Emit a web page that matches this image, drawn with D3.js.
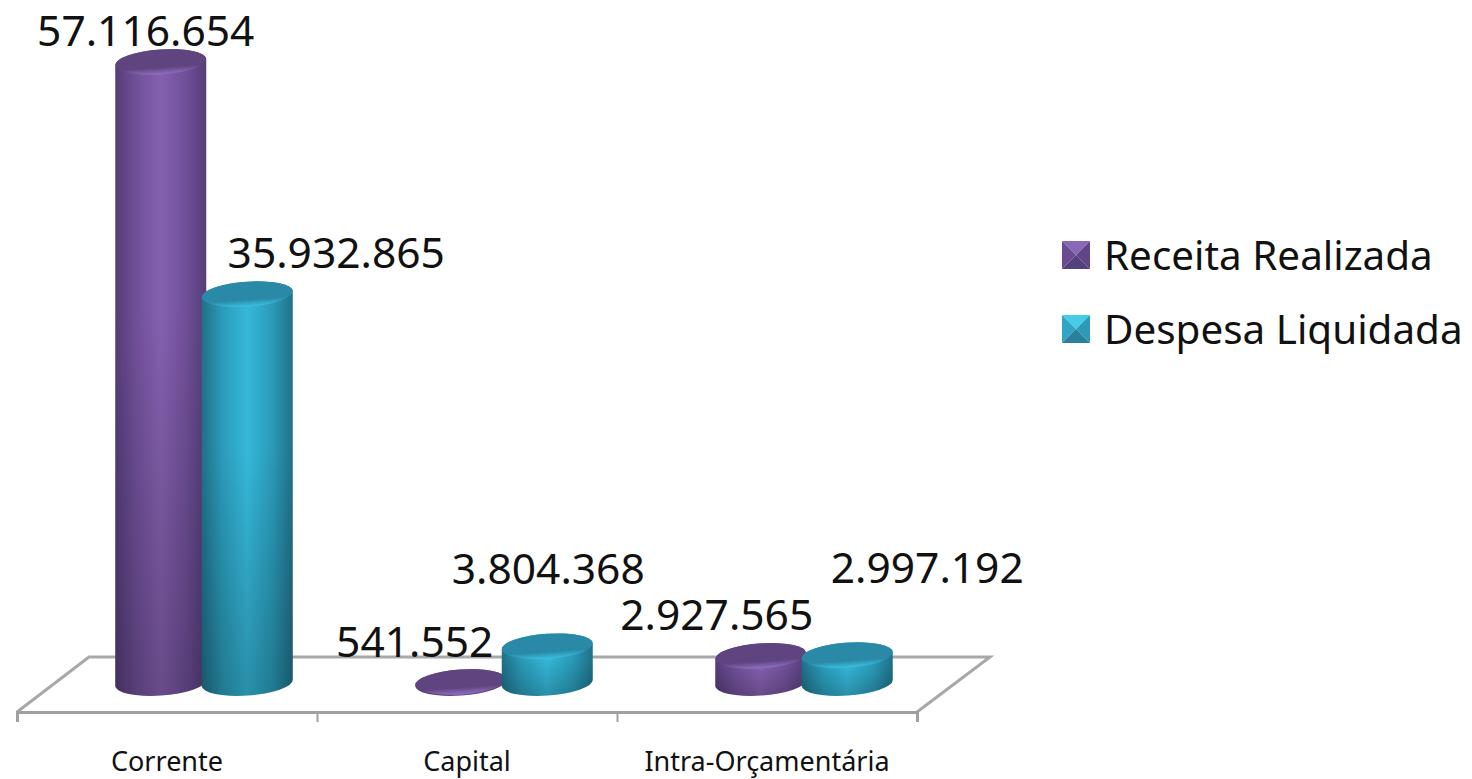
<!DOCTYPE html>
<html>
<head>
<meta charset="utf-8">
<script src="https://cdn.jsdelivr.net/npm/d3@7"></script>
<style>
    html, body { margin: 0; padding: 0; background: #fff; overflow: hidden; }
    text { font-family: "Noto Sans", sans-serif; fill: #111; }
</style>
</head>
<body>
<svg id="chart" width="1472" height="779"></svg>
<script>
const categories = ["Corrente", "Capital", "Intra-Orçamentária"];
const seriesNames = ["Receita Realizada", "Despesa Liquidada"];
const receitaRealizada = [57116654, 541552, 2927565];
const despesaLiquidada = [35932865, 3804368, 2997192];
const valueLabels = [
    ["57.116.654", "541.552", "2.927.565"],
    ["35.932.865", "3.804.368", "2.997.192"]
];

// the labels were placed by hand in the original, so they sit off their bars
const labelNudge = [
    [[-15, -16], [-46, -25], [-44, -26]],
    [[89, -26], [1, -62], [80, -72]]
];

const colors = [
    { edge: "#553d78", soft: "#6f4f98", mid: "#8660b0", top: "#5f4480", lip: "#9070c0", tri: ["#8a68b8", "#6a4a92", "#614588", "#54407a"] },
    { edge: "#1f7088", soft: "#2a9ab8", mid: "#35b8da", top: "#2a89a6", lip: "#3cc0e0", tri: ["#48cbea", "#2fa6c6", "#2b9ab8", "#2a8098"] }
];

const svg = d3.select("#chart");
const defs = svg.append("defs");

const floor = { left: 17, right: 917, front: 712, back: 657, depthX: 73 };
const baseY = 683;     // centre of the cylinder bottoms
const rx = 45.5, ry = 12.5, tilt = 3;
const tiltDeg = -4;

const x0 = d3.scaleBand().domain(categories).range([floor.left, floor.right]);
const x1 = d3.scaleBand().domain(seriesNames).range([-86.5, 86.5]);
const y = d3.scaleLinear().domain([0, 57116654]).range([688, 62]);
const depthShift = 37;

colors.forEach((c, i) => {
    let side = defs.append("linearGradient").attr("id", "side" + i);
    [[0, c.edge], [0.22, c.soft], [0.5, c.mid], [0.78, c.soft], [1, c.edge]].forEach(s =>
        side.append("stop").attr("offset", s[0]).attr("stop-color", s[1]));

    let top = defs.append("linearGradient").attr("id", "top" + i)
        .attr("x1", 0).attr("y1", 0).attr("x2", 0).attr("y2", 1);
    [[0, c.top], [0.72, c.top], [1, c.lip]].forEach(s =>
        top.append("stop").attr("offset", s[0]).attr("stop-color", s[1]));
});

let shade = defs.append("linearGradient").attr("id", "shade")
    .attr("x1", 0).attr("y1", 0).attr("x2", 0).attr("y2", 1);
[[0, 0], [0.4, 0], [1, 0.22]].forEach(s =>
    shade.append("stop").attr("offset", s[0]).attr("stop-color", "#000").attr("stop-opacity", s[1]));

// floor of the 3D plot
svg.append("path")
    .attr("d", d3.line()([
        [floor.left, floor.front],
        [floor.left + floor.depthX - 1, floor.back],
        [floor.right + floor.depthX, floor.back],
        [floor.right, floor.front]
    ]))
    .attr("fill", "none")
    .attr("stroke", "#a8a8a8")
    .attr("stroke-width", 3);

let tickScale = d3.scaleLinear().domain([0, categories.length]).range([floor.left, floor.right]);
let axis = svg.append("g")
    .attr("transform", "translate(0," + floor.front + ")")
    .call(d3.axisBottom(tickScale).ticks(categories.length).tickSize(10).tickFormat(""));
axis.selectAll("path, line").attr("stroke", "#a0a0a0").attr("stroke-width", 3);

axis.selectAll(".tick line").attr("stroke-width", 2);

let sideShape = (cx, topY, bottomY) =>
    "M" + (cx - rx) + "," + (topY + tilt) +
    "A" + rx + "," + ry + " " + tiltDeg + " 0 1 " + (cx + rx) + "," + (topY - tilt) +
    "L" + (cx + rx) + "," + (bottomY - tilt) +
    "A" + rx + "," + ry + " " + tiltDeg + " 0 1 " + (cx - rx) + "," + (bottomY + tilt) + "Z";

let cells = [];
categories.forEach((cat, c) => {
    [receitaRealizada, despesaLiquidada].forEach((values, s) => {
        cells.push({ cat: cat, c: c, s: s, value: values[c], label: valueLabels[s][c] });
    });
});

let cx = d => x0(d.cat) + x0.bandwidth() / 2 + depthShift + x1(seriesNames[d.s]) + x1.bandwidth() / 2;

let bars = svg.selectAll("g.bar").data(cells).enter().append("g").attr("class", "bar");

bars.append("path")
    .attr("d", d => sideShape(cx(d), Math.min(y(d.value), baseY - 1), baseY))
    .attr("fill", d => "url(#side" + d.s + ")");
bars.append("path")
    .attr("d", d => sideShape(cx(d), Math.min(y(d.value), baseY - 1), baseY))
    .attr("fill", "url(#shade)");
bars.append("ellipse")
    .attr("rx", rx)
    .attr("ry", ry)
    .attr("transform", d => "translate(" + cx(d) + "," + Math.min(y(d.value), baseY - 1) + ") rotate(" + tiltDeg + ")")
    .attr("fill", d => "url(#top" + d.s + ")");

svg.selectAll("text.value").data(cells).enter().append("text")
    .attr("class", "value")
    .attr("x", d => cx(d) + labelNudge[d.s][d.c][0])
    .attr("y", d => Math.min(y(d.value), baseY - 1) + labelNudge[d.s][d.c][1])
    .attr("text-anchor", "middle")
    .attr("font-size", 42.5)
    .text(d => d.label);

svg.selectAll("text.cat").data(categories).enter().append("text")
    .attr("class", "cat")
    .attr("x", d => x0(d) + x0.bandwidth() / 2)
    .attr("y", 771)
    .attr("text-anchor", "middle")
    .attr("font-size", 27)
    .text(d => d);

// legend, with the bevelled square markers
let legendY = d3.scalePoint().domain(seriesNames).range([241, 315]);
let legend = svg.selectAll("g.legend").data(seriesNames).enter().append("g")
    .attr("class", "legend")
    .attr("transform", d => "translate(1062," + legendY(d) + ")");

let m = 28, mid = 14;
let triangles = [
    [[0, 0], [m, 0], [mid, mid]],
    [[0, 0], [mid, mid], [0, m]],
    [[m, 0], [m, m], [mid, mid]],
    [[0, m], [mid, mid], [m, m]]
];
legend.each(function (d, i) {
    d3.select(this).selectAll("path").data(triangles).enter().append("path")
        .attr("d", t => d3.line()(t) + "Z")
        .attr("fill", (t, k) => colors[i].tri[k]);
});
legend.append("text")
    .attr("x", 42)
    .attr("y", 29)
    .attr("font-size", 40.4)
    .text(d => d);
</script>
</body>
</html>
